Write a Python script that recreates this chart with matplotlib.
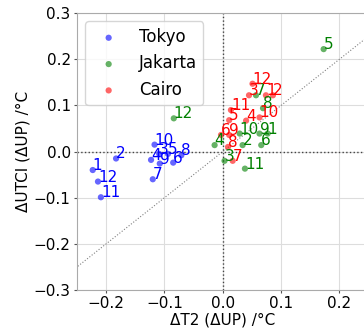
import matplotlib
matplotlib.use('Agg')
import matplotlib.pyplot as plt

months = [1, 2, 3, 4, 5, 6, 7, 8, 9, 10, 11, 12]

tokyo_t2 = [-0.223, -0.183, -0.109, -0.123, -0.094, -0.085, -0.120, -0.071, -0.108, -0.117, -0.209, -0.214]
tokyo_utci = [-0.040, -0.015, -0.005, -0.018, -0.005, -0.024, -0.060, -0.008, -0.026, 0.015, -0.099, -0.065]

jakarta_t2 = [0.077, 0.034, 0.003, -0.014, 0.173, 0.066, 0.057, 0.069, 0.063, 0.029, 0.038, -0.084]
jakarta_utci = [0.039, 0.014, -0.020, 0.014, 0.222, 0.014, 0.122, 0.094, 0.039, 0.039, -0.037, 0.072]

cairo_t2 = [0.074, 0.086, 0.045, 0.040, 0.011, -0.003, 0.017, 0.009, 0.011, 0.063, 0.014, 0.051]
cairo_utci = [0.122, 0.122, 0.122, 0.067, 0.068, 0.036, -0.020, 0.010, 0.036, 0.074, 0.090, 0.147]

fig = plt.figure(figsize=(3.64, 3.34), dpi=100)
ax = fig.add_axes([0.2115, 0.1317, 0.801, 0.829])

cities = [('Tokyo', tokyo_t2, tokyo_utci, 'blue'),
          ('Jakarta', jakarta_t2, jakarta_utci, 'green'),
          ('Cairo', cairo_t2, cairo_utci, 'red')]

for name, xs, ys, col in cities:
    ax.scatter(xs, ys, s=20, color=col, alpha=0.6, label=name, zorder=3, edgecolors='none')
    for m, x, y in zip(months, xs, ys):
        ax.text(x, y, str(m), color=col, fontsize=11, zorder=4)

ax.plot([-0.3, 0.3], [-0.3, 0.3], linestyle=':', color='gray', linewidth=0.8, zorder=1)
ax.axhline(0, color='#444444', linestyle=':', linewidth=1, zorder=2)
ax.axvline(0, color='#444444', linestyle=':', linewidth=1, zorder=2)

ax.set_xlim(-0.25, 0.25)
ax.set_ylim(-0.3, 0.3)
ax.set_xticks([-0.2, -0.1, 0.0, 0.1, 0.2])
ax.set_yticks([-0.3, -0.2, -0.1, 0.0, 0.1, 0.2, 0.3])
ax.grid(color='#dddddd', linewidth=0.8, zorder=0)
ax.set_axisbelow(True)
for sp in ax.spines.values():
    sp.set_color('#aaaaaa')
ax.tick_params(labelsize=11, color='#555555', length=2.5, pad=2)

ax.set_xlabel('ΔT2 (ΔUP) /°C', fontsize=11, labelpad=1)
ax.set_ylabel('ΔUTCI (ΔUP) /°C', fontsize=11, labelpad=2)
ax.legend(loc='upper left', fontsize=12)

fig.savefig('out.png', dpi=100)
